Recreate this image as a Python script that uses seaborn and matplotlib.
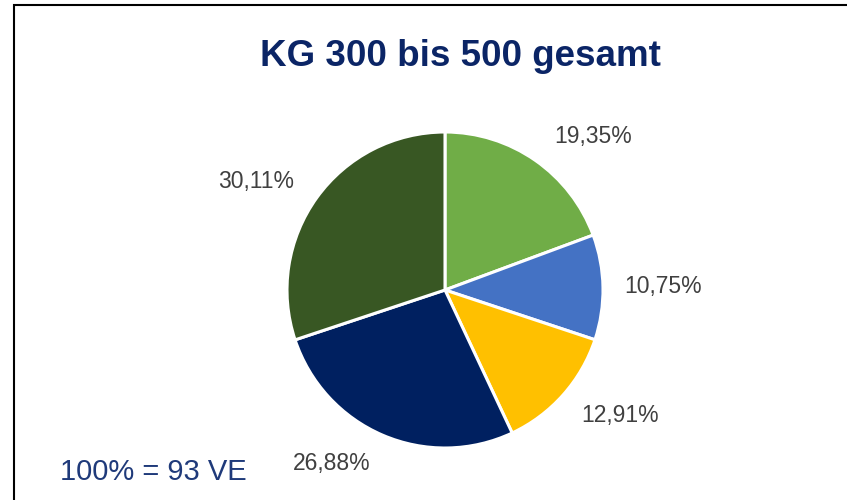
import numpy as np
import seaborn as sns
import matplotlib.pyplot as plt
from matplotlib.patches import Rectangle

# --- DATA ---
anteile = [19.35, 10.75, 12.91, 26.88, 30.11]
labels = ["19,35%", "10,75%", "12,91%", "26,88%", "30,11%"]
farben = ["#70AD47", "#4472C4", "#FFC000", "#002060", "#385723"]
titel = "KG 300 bis 500 gesamt"
basis = "100% = 93 VE"

sns.set_theme(style="white")
plt.rcParams['font.family'] = ['Liberation Sans', 'DejaVu Sans']

fig = plt.figure(figsize=(8.47, 5.0), dpi=100)
# pie area placed in pixels: centre (445, 290), radius 158
ax = fig.add_axes([287 / 847, 52 / 500, 316 / 847, 316 / 500])

wedges, _ = ax.pie(anteile, colors=sns.color_palette(farben), startangle=90,
                   counterclock=False, radius=1.0,
                   wedgeprops=dict(edgecolor="white", linewidth=2.2))
ax.set_xlim(-1, 1)
ax.set_ylim(-1, 1)
ax.set_aspect("equal")

# label placement: mid-angle nudges and radial distance, like Excel's best fit
nudge = [-9, 0, 6, -10, 6]
dist = [1.35, 1.38, 1.36, 1.31, 1.38]
for w, lab, dn, d in zip(wedges, labels, nudge, dist):
    ang = np.deg2rad((w.theta1 + w.theta2) / 2 + dn)
    ax.text(d * np.cos(ang), d * np.sin(ang), lab, ha="center", va="center",
            fontsize=16.5, color="#404040", clip_on=False)

fig.text(460 / 847, 1 - 57 / 500, titel, ha="center", va="center",
         fontsize=26.5, fontweight="bold", color="#0B2566")
fig.text(60 / 847, 1 - 480 / 500, basis, ha="left", va="baseline",
         fontsize=21, color="#1F3A7A")

# frame around the chart (right/bottom edges run off the picture)
fig.patches.append(Rectangle((14 / 847, -0.05), 1.1, 0.99 + 0.05, transform=fig.transFigure,
                             fill=False, edgecolor="black", linewidth=1.5))

fig.savefig("out.png", dpi=100)
